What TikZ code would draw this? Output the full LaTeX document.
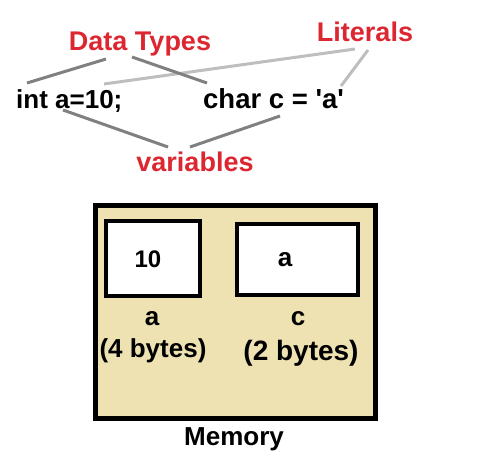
\documentclass[tikz,border=0pt]{standalone}
\usepackage{fontspec}
\setmainfont{Liberation Sans}
\usetikzlibrary{calc}
\definecolor{lblred}{RGB}{220,38,48}
\definecolor{memtan}{RGB}{239,226,178}
\definecolor{linkgray}{RGB}{128,128,128}
\definecolor{litgray}{RGB}{190,190,190}
\begin{document}
\begin{tikzpicture}[x=1pt, y=-1pt,
		txt/.style={inner sep=0, anchor=base, font=\fontsize{26}{30}\selectfont\bfseries},
		lbl/.style={txt, text=lblred, font=\fontsize{27}{30}\selectfont\bfseries},
		cell/.style={draw, fill=white, line width=4pt, inner sep=0},
		link/.style={linkgray, line width=3pt},
		litlink/.style={litgray, line width=3pt}
		]
	\useasboundingbox (0,0) rectangle (489,463);
	% labels and code
	\node [lbl] (dtypes) at (140,50) {Data Types};
	\node [lbl] (literals) at (365,41) {Literals};
	\node [lbl] (vars) at (195,171) {variables};
	\node [txt, anchor=base west] (code1) at (16,108) {int a=10;};
	\node [txt, anchor=base west, font=\fontsize{27.5}{30}\selectfont\bfseries] (code2) at (203,108) {char c = \textquotesingle a\textquotesingle};
	\coordinate (int) at (27,83);
	\coordinate (char) at (207,83);
	\coordinate (ten) at (104,84);
	\coordinate (lita) at (341,86);
	\coordinate (vara) at (63,110);
	\coordinate (varc) at (280,116);
	\draw [litlink] ($(literals.base)+(-10,8)$) -- (ten);
	\draw [litlink] ($(literals.base)+(3,9)$) -- (lita);
	\draw [link] ($(dtypes.base)+(-34,9)$) -- (int);
	\draw [link] ($(dtypes.base)+(-8,7)$) -- (char);
	\draw [link] ($(vars.base)+(-27,-24)$) -- (vara);
	\draw [link] ($(vars.base)+(-5,-24)$) -- (varc);
	% memory
	\node [draw, fill=memtan, line width=5pt, inner sep=0,
		minimum width=280pt, minimum height=213pt] (mem) at (235.5,312) {};
	\node [cell, minimum width=94pt, minimum height=75pt] (cella) at (153,258.5) {};
	\node [cell, minimum width=121pt, minimum height=71pt] (cellc) at (297.5,259.5) {};
	\node [txt, anchor=center, font=\fontsize{24}{28}\selectfont\bfseries] (vala) at (148,259.5) {10};
	\node [txt, anchor=center] (valc) at (285,259.5) {a};
	\node [txt] (namea) at (152,325) {a};
	\node [txt] (sizea) at (153,357) {(4 bytes)};
	\node [txt] (namec) at (298,325) {c};
	\node [txt, font=\fontsize{28}{30}\selectfont\bfseries] (sizec) at (301,360) {(2 bytes)};
	\node [txt] (memlbl) at (234,445) {Memory};
\end{tikzpicture}
\end{document}
